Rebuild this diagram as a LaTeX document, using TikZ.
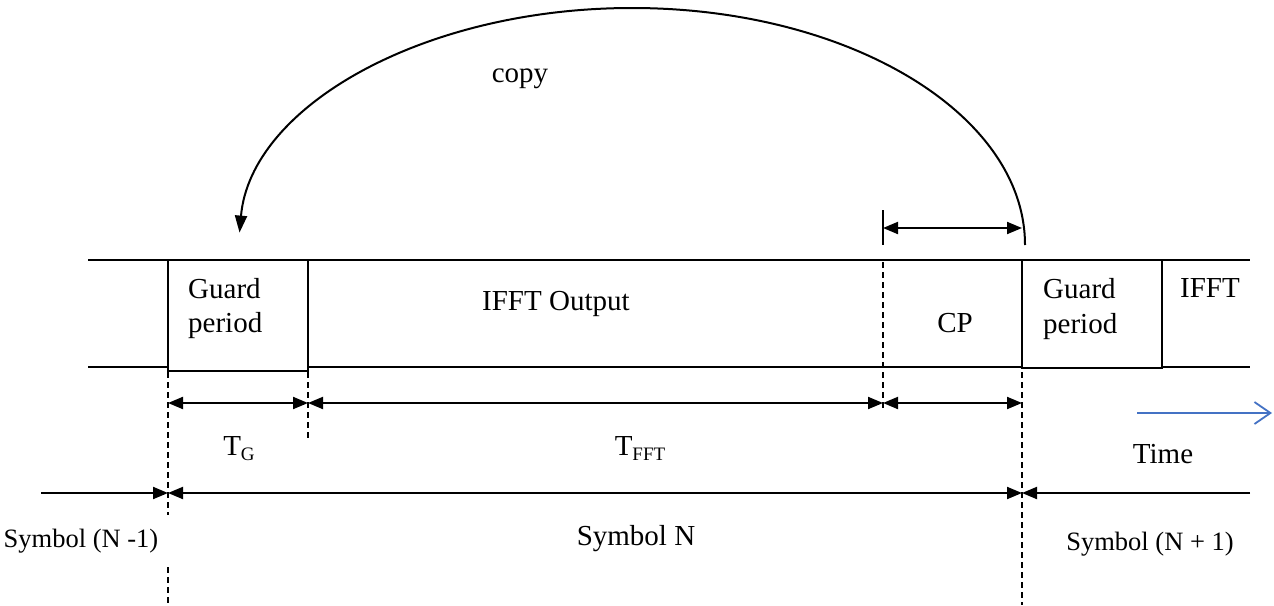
\documentclass[tikz,border=0pt]{standalone}
\usepackage{fontspec}
\setmainfont{Liberation Serif}
\usetikzlibrary{arrows.meta}
\definecolor{timeblue}{HTML}{4472C4}

\begin{document}
\begin{tikzpicture}[x=1pt,y=-1pt,
  rail/.style={line width=2pt},
  slot/.style={draw, line width=1.6pt, fill=white},
  guide/.style={line width=1.3pt, dash pattern=on 6pt off 4pt},
  tip/.tip={Triangle[length=15pt,width=12pt]},
  span/.style={line width=2pt, tip-tip},
  lbl/.style={inner sep=0pt, font=\fontsize{29}{35}\selectfont},
  small/.style={inner sep=0pt, font=\fontsize{26.5}{32}\selectfont}
]
\useasboundingbox (0,0) rectangle (1274,605);

% signal rails
\coordinate (railTL) at (88,260);
\coordinate (railTR) at (1250,260);
\coordinate (railBL) at (88,367);
\coordinate (railBR) at (1250,367);
\draw[rail] (railTL) -- (railTR);
\draw[rail] (railBL) -- (railBR);

% guard period slots
\draw[slot] (168,260) rectangle (308,371);
\draw[slot, line width=2.2pt] (1022,260) rectangle (1162,368);
\node[lbl, anchor=base west] (gp1a) at (188,298) {Guard};
\node[lbl, anchor=base west] (gp1b) at (188,332) {period};
\node[lbl, anchor=base west] (gp2a) at (1043,298) {Guard};
\node[lbl, anchor=base west] (gp2b) at (1043,333) {period};

\node[lbl, anchor=base west] (ifftout) at (482,310) {IFFT Output};
\node[lbl, anchor=base] (cp) at (955,332) {CP};
\node[lbl, anchor=base] (ifft) at (1210,297) {IFFT};

% boundaries
\draw[guide] (168,372) -- (168,515);
\draw[guide] (168,567) -- (168,605);
\draw[guide] (308,372) -- (308,440);
\draw[guide] (883,262) -- (883,410);
\draw[guide] (1022,372) -- (1022,605);
\draw[line width=1.3pt] (883,210) -- (883,245);

% durations
\coordinate (d0) at (168,403);
\coordinate (d1) at (308,403);
\coordinate (d2) at (883,403);
\coordinate (d3) at (1022,403);
\draw[span] (d0) -- (d1);
\draw[span] (d1) -- (d2);
\draw[span] (d2) -- (d3);
\node[lbl, anchor=base] (tg) at (239,455) {T\raisebox{-5pt}{\fontsize{19}{19}\selectfont G}};
\node[lbl, anchor=base] (tfft) at (640,455) {T\raisebox{-5pt}{\fontsize{19}{19}\selectfont FFT}};

% cyclic prefix span and copy arrow
\coordinate (cpA) at (883,228);
\coordinate (cpB) at (1022,228);
\draw[span] (cpA) -- (cpB);
\coordinate (cpEnd) at (1025,245);
\draw[line width=2pt, -{Triangle[length=17pt,width=12pt]}]
  (cpEnd) arc[start angle=0, end angle=-177, x radius=393, y radius=237];
\node[lbl, anchor=base] (copy) at (520,82) {copy};

% time axis
\coordinate (tA) at (1137,413);
\coordinate (tB) at (1272,413);
\draw[timeblue, line width=1.8pt, -{Straight Barb[length=16pt,width=22pt]}] (tA) -- (tB);
\node[lbl, anchor=base] (time) at (1163,463) {Time};

% symbols
\coordinate (s0) at (41,493);
\coordinate (s1) at (168,493);
\coordinate (s2) at (1022,493);
\coordinate (s3) at (1250,493);
\draw[line width=2pt, -tip] (s0) -- (s1);
\draw[span] (s1) -- (s2);
\draw[line width=2pt, -tip] (s3) -- (s2);
\node[small, anchor=base] (symprev) at (81,547) {Symbol (N -1)};
\node[lbl, anchor=base] (symn) at (636,545) {Symbol N};
\node[small, anchor=base] (symnext) at (1150,550) {Symbol (N + 1)};
\end{tikzpicture}
\end{document}
